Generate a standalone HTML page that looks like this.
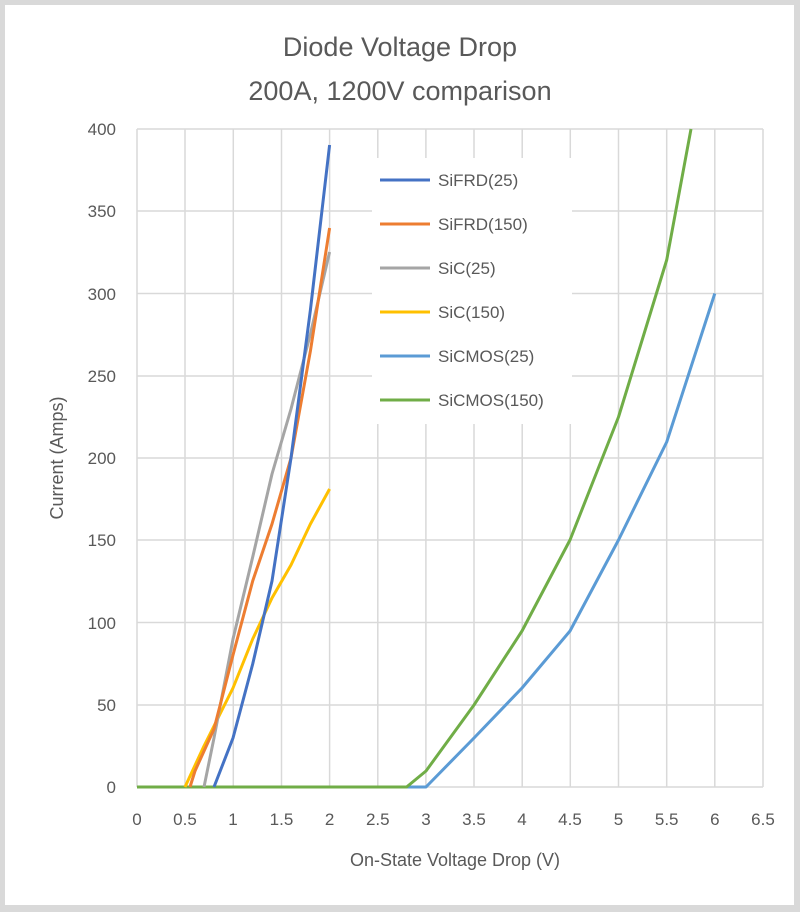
<!DOCTYPE html>
<html><head><meta charset="utf-8"><style>
html,body{margin:0;padding:0;background:#fff}
svg{display:block}
text{font-family:"Liberation Sans",sans-serif;fill:#595959}
</style></head><body>
<svg width="800" height="912" viewBox="0 0 800 912" xmlns="http://www.w3.org/2000/svg">
<rect x="0" y="0" width="800" height="912" fill="#d9d9d9"/>
<rect x="5" y="5" width="789" height="900" fill="#fff"/>
<text x="400" y="56" font-size="27" text-anchor="middle">Diode Voltage Drop</text>
<text x="400" y="100" font-size="27" text-anchor="middle">200A, 1200V comparison</text>
<g stroke="#d9d9d9" stroke-width="1.5">
<line x1="137" y1="129" x2="763" y2="129"/><line x1="137" y1="211" x2="763" y2="211"/>
<line x1="137" y1="293.5" x2="763" y2="293.5"/><line x1="137" y1="376" x2="763" y2="376"/>
<line x1="137" y1="458" x2="763" y2="458"/><line x1="137" y1="540" x2="763" y2="540"/>
<line x1="137" y1="622.5" x2="763" y2="622.5"/><line x1="137" y1="705" x2="763" y2="705"/>
<line x1="137" y1="787" x2="763" y2="787"/>
<line x1="137" y1="129" x2="137" y2="787"/><line x1="185" y1="129" x2="185" y2="787"/>
<line x1="233.3" y1="129" x2="233.3" y2="787"/><line x1="281.5" y1="129" x2="281.5" y2="787"/>
<line x1="329.6" y1="129" x2="329.6" y2="787"/><line x1="377.8" y1="129" x2="377.8" y2="787"/>
<line x1="425.9" y1="129" x2="425.9" y2="787"/><line x1="474" y1="129" x2="474" y2="787"/>
<line x1="522.2" y1="129" x2="522.2" y2="787"/><line x1="570.3" y1="129" x2="570.3" y2="787"/>
<line x1="618.5" y1="129" x2="618.5" y2="787"/><line x1="666.7" y1="129" x2="666.7" y2="787"/>
<line x1="714.8" y1="129" x2="714.8" y2="787"/><line x1="763" y1="129" x2="763" y2="787"/>
</g>
<g font-size="17" text-anchor="end">
<text x="116" y="135">400</text><text x="116" y="217">350</text><text x="116" y="300">300</text>
<text x="116" y="382">250</text><text x="116" y="464">200</text><text x="116" y="546">150</text>
<text x="116" y="629">100</text><text x="116" y="711">50</text><text x="116" y="793">0</text>
</g>
<g font-size="17" text-anchor="middle">
<text x="137" y="825">0</text><text x="185" y="825">0.5</text><text x="233" y="825">1</text>
<text x="281.5" y="825">1.5</text><text x="329.6" y="825">2</text><text x="377.8" y="825">2.5</text>
<text x="426" y="825">3</text><text x="474" y="825">3.5</text><text x="522" y="825">4</text>
<text x="570" y="825">4.5</text><text x="618.5" y="825">5</text><text x="666.7" y="825">5.5</text>
<text x="714.8" y="825">6</text><text x="763" y="825">6.5</text>
</g>
<text x="455" y="866" font-size="18" text-anchor="middle">On-State Voltage Drop (V)</text>
<text transform="translate(63,458) rotate(-90)" font-size="18" text-anchor="middle">Current (Amps)</text>
<g fill="none" stroke-width="3" stroke-linejoin="round">
<polyline stroke="#5b9bd5" points="137,787 426,787 474,738 522,688 570,631 618.5,540 666.7,442 714.8,293.5"/>
<polyline stroke="#70ad47" points="137,787 406.6,787 426,771 474,705 522,631 570,540 618.5,417 666.7,260 691,129"/>
<polyline stroke="#ffc000" points="185,787 204,746 233,688 252.7,639 272,598 291,565 310.4,524 329.6,489"/>
<polyline stroke="#a5a5a5" points="204,787 214,738 233,639 252.7,557 272,474 291,409 310.4,334 329.6,252"/>
<polyline stroke="#ed7d31" points="190,787 195,771 214,729 233,655 252.7,581 272,524 291,458 310.4,351 329.6,228"/>
<polyline stroke="#4472c4" points="214,787 233,738 252.7,664 272,581 291,458 310.4,310 329.6,145"/>
</g>
<rect x="372" y="158" width="200" height="266" fill="#fff"/>
<g stroke-width="3">
<line x1="380" y1="180" x2="430" y2="180" stroke="#4472c4"/>
<line x1="380" y1="224" x2="430" y2="224" stroke="#ed7d31"/>
<line x1="380" y1="268" x2="430" y2="268" stroke="#a5a5a5"/>
<line x1="380" y1="312" x2="430" y2="312" stroke="#ffc000"/>
<line x1="380" y1="356" x2="430" y2="356" stroke="#5b9bd5"/>
<line x1="380" y1="400" x2="430" y2="400" stroke="#70ad47"/>
</g>
<g font-size="17">
<text x="438" y="186">SiFRD(25)</text><text x="438" y="230">SiFRD(150)</text>
<text x="438" y="274">SiC(25)</text><text x="438" y="318">SiC(150)</text>
<text x="438" y="362">SiCMOS(25)</text><text x="438" y="406">SiCMOS(150)</text>
</g>
</svg>
</body></html>
